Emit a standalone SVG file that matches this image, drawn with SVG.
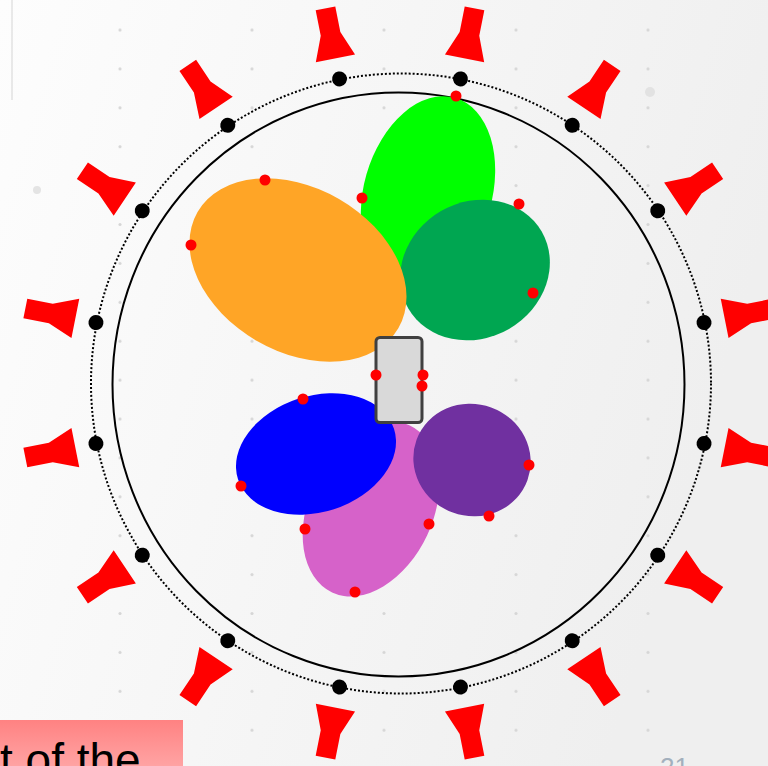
<svg xmlns="http://www.w3.org/2000/svg" xmlns:xlink="http://www.w3.org/1999/xlink" width="768" height="766" viewBox="0 0 768 766">
<defs>
  <linearGradient id="bg" x1="0" y1="0" x2="1" y2="0.3">
    <stop offset="0" stop-color="#fdfdfd"/>
    <stop offset="1" stop-color="#efefef"/>
  </linearGradient>
  <linearGradient id="pink" x1="0" y1="0" x2="0" y2="1">
    <stop offset="0" stop-color="#ff8282"/>
    <stop offset="1" stop-color="#ffa3a3"/>
  </linearGradient>
  <pattern id="grid" patternUnits="userSpaceOnUse" x="54" y="10.55" width="132" height="38.9">
    <circle cx="66" cy="19.45" r="1.6" fill="#d6d6d6"/>
  </pattern>
  <polygon id="spk" points="380,52 420,52 410,27 410,1 390,1 390,27" fill="#ff0000"/>
  <circle id="bd" cx="400" cy="73" r="7.5" fill="#000"/>
</defs>
<style>
  .rd { fill: #ff0000; }
  .ring { fill: none; stroke: #000; }
</style>
<rect width="768" height="766" fill="url(#bg)"/>
<rect width="768" height="766" fill="url(#grid)"/>
<line x1="12" y1="0" x2="12" y2="100" stroke="#e2e2e2" stroke-width="1.5"/>
<circle cx="37" cy="190" r="4" fill="#e4e4e4"/>
<circle cx="650" cy="92" r="5" fill="#e2e2e2"/>

<g id="speakers">
  <use xlink:href="#spk" transform="rotate(11.25 400 383)"/>
  <use xlink:href="#spk" transform="rotate(33.75 400 383)"/>
  <use xlink:href="#spk" transform="rotate(56.25 400 383)"/>
  <use xlink:href="#spk" transform="rotate(78.75 400 383)"/>
  <use xlink:href="#spk" transform="rotate(101.25 400 383)"/>
  <use xlink:href="#spk" transform="rotate(123.75 400 383)"/>
  <use xlink:href="#spk" transform="rotate(146.25 400 383)"/>
  <use xlink:href="#spk" transform="rotate(168.75 400 383)"/>
  <use xlink:href="#spk" transform="rotate(191.25 400 383)"/>
  <use xlink:href="#spk" transform="rotate(213.75 400 383)"/>
  <use xlink:href="#spk" transform="rotate(236.25 400 383)"/>
  <use xlink:href="#spk" transform="rotate(258.75 400 383)"/>
  <use xlink:href="#spk" transform="rotate(281.25 400 383)"/>
  <use xlink:href="#spk" transform="rotate(303.75 400 383)"/>
  <use xlink:href="#spk" transform="rotate(326.25 400 383)"/>
  <use xlink:href="#spk" transform="rotate(348.75 400 383)"/>
</g>

<g id="rings">
  <circle class="ring" cx="401" cy="383.5" r="310" stroke-width="2" stroke-dasharray="2 2"/>
  <ellipse class="ring" cx="398.5" cy="384.5" rx="286" ry="292" stroke-width="2"/>
</g>

<g id="ring-dots">
  <use xlink:href="#bd" transform="rotate(11.25 400 383)"/>
  <use xlink:href="#bd" transform="rotate(33.75 400 383)"/>
  <use xlink:href="#bd" transform="rotate(56.25 400 383)"/>
  <use xlink:href="#bd" transform="rotate(78.75 400 383)"/>
  <use xlink:href="#bd" transform="rotate(101.25 400 383)"/>
  <use xlink:href="#bd" transform="rotate(123.75 400 383)"/>
  <use xlink:href="#bd" transform="rotate(146.25 400 383)"/>
  <use xlink:href="#bd" transform="rotate(168.75 400 383)"/>
  <use xlink:href="#bd" transform="rotate(191.25 400 383)"/>
  <use xlink:href="#bd" transform="rotate(213.75 400 383)"/>
  <use xlink:href="#bd" transform="rotate(236.25 400 383)"/>
  <use xlink:href="#bd" transform="rotate(258.75 400 383)"/>
  <use xlink:href="#bd" transform="rotate(281.25 400 383)"/>
  <use xlink:href="#bd" transform="rotate(303.75 400 383)"/>
  <use xlink:href="#bd" transform="rotate(326.25 400 383)"/>
  <use xlink:href="#bd" transform="rotate(348.75 400 383)"/>
</g>

<g id="lobe-green"><ellipse cx="428" cy="192" rx="64" ry="98" transform="rotate(16 428 192)" fill="#00ff00"/></g>
<g id="lobe-darkgreen"><ellipse cx="475" cy="270" rx="77" ry="68" transform="rotate(-30 475 270)" fill="#00a651"/></g>
<g id="lobe-orange"><ellipse cx="298" cy="270" rx="116" ry="82" transform="rotate(30 298 270)" fill="#ffa526"/></g>
<g id="lobe-orchid"><ellipse cx="371" cy="509" rx="62" ry="92" transform="rotate(25 371 509)" fill="#d662c9"/></g>
<g id="lobe-blue"><ellipse cx="316" cy="454" rx="82" ry="58" transform="rotate(-18 316 454)" fill="#0000ff"/></g>
<g id="lobe-purple"><ellipse cx="472" cy="460" rx="59" ry="56" transform="rotate(20 472 460)" fill="#7030a0"/></g>

<g id="device"><rect x="376" y="337.5" width="46" height="85" rx="4" fill="#d9d9d9" stroke="#404040" stroke-width="3"/></g>

<g id="red-dots">
  <circle class="rd" cx="456" cy="96" r="5.5"/>
  <circle class="rd" cx="265" cy="180" r="5.5"/>
  <circle class="rd" cx="191" cy="245" r="5.5"/>
  <circle class="rd" cx="362" cy="198" r="5.5"/>
  <circle class="rd" cx="519" cy="204" r="5.5"/>
  <circle class="rd" cx="533" cy="293" r="5.5"/>
  <circle class="rd" cx="376" cy="375" r="5.5"/>
  <circle class="rd" cx="423" cy="375" r="5.5"/>
  <circle class="rd" cx="422" cy="386" r="5.5"/>
  <circle class="rd" cx="303" cy="399" r="5.5"/>
  <circle class="rd" cx="241" cy="486" r="5.5"/>
  <circle class="rd" cx="305" cy="529" r="5.5"/>
  <circle class="rd" cx="429" cy="524" r="5.5"/>
  <circle class="rd" cx="489" cy="516" r="5.5"/>
  <circle class="rd" cx="529" cy="465" r="5.5"/>
  <circle class="rd" cx="355" cy="592" r="5.5"/>
</g>

<g id="caption">
  <rect x="0" y="720" width="183" height="46" fill="url(#pink)"/>
  <text x="0" y="776" font-family="'Liberation Sans', Arial, sans-serif" font-size="46" fill="#000">t of the</text>
</g>
<text x="660" y="776" font-family="'Liberation Sans', Arial, sans-serif" font-size="26" fill="#a3b0bd">21</text>
</svg>
